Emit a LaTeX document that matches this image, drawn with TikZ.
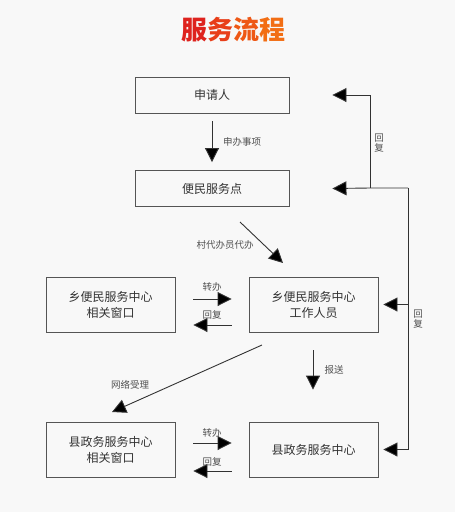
\documentclass[tikz,border=0pt]{standalone}
\usepackage{fontspec}
\setmainfont{Noto Sans CJK SC}
\usepackage{tikz}
\usetikzlibrary{arrows.meta,positioning,calc}
\definecolor{bgGray}{RGB}{248,248,248}
\definecolor{boxLine}{RGB}{85,85,85}
\definecolor{lineDark}{RGB}{50,50,50}
\definecolor{labGray}{RGB}{80,80,80}
\definecolor{titleA}{RGB}{222,35,30}
\definecolor{titleB}{RGB}{232,62,25}
\definecolor{titleC}{RGB}{238,88,22}
\definecolor{titleD}{RGB}{242,110,20}

\begin{document}
\begin{tikzpicture}[
  x=1pt,y=-1pt,
  box/.style={draw=boxLine,line width=0.9pt,minimum width=129pt,minimum height=55pt,font=\fontsize{12}{16}\selectfont,align=center,text=black!80},
  topbox/.style={box,minimum width=154pt,minimum height=36pt},
  arr/.style={draw=lineDark,line width=0.9pt,-{Triangle[length=14pt,width=14pt,fill=black]}},
  lab/.style={font=\fontsize{9.5}{10}\selectfont,text=labGray,inner sep=1pt},
  vlab/.style={lab,align=center,font=\fontsize{9.5}{10.5}\selectfont}
]
  \useasboundingbox[fill=bgGray] (0,0) rectangle (455,512);

  % Title
  \node (title) at (233,30) {\fontsize{26}{28}\selectfont\bfseries
    \textcolor{titleA}{服}\textcolor{titleB}{务}\textcolor{titleC}{流}\textcolor{titleD}{程}};

  % Top column
  \node[topbox] (apply) at (212,95) {申请人};
  \node[topbox] (point) at (212,188.5) {便民服务点};
  \draw[arr,shorten <=8pt,shorten >=8pt] (apply) -- (point);
  \node[lab,anchor=west] (lApply) at (222,142) {申办事项};

  % Township row
  \node[box] (townWin) at (110.5,304.5) {乡便民服务中心\\相关窗口};
  \node[box] (townStaff) at (313.5,304.5) {乡便民服务中心\\工作人员};
  \draw[arr] ([shift={(18pt,5.5pt)}]townWin.east) -- ([shift={(-17pt,5.5pt)}]townStaff.west);
  \draw[arr] ([shift={(-17pt,-20.5pt)}]townStaff.west) -- ([shift={(18pt,-20.5pt)}]townWin.east);
  \node[lab] (lTurn1) at (212,287) {转办};
  \node[lab] (lBack1) at (212,315) {回复};

  % Proxy arrow
  \coordinate (pxA) at (240,222);
  \coordinate (pxB) at (283,263);
  \draw[arr] (pxA) -- (pxB);
  \node[lab] (lProxy) at (225,245) {村代办员代办};

  % County row
  \node[box] (countyWin) at (110.5,449.5) {县政务服务中心\\相关窗口};
  \node[box] (county) at (313.5,449.5) {县政务服务中心};
  \draw[arr] ([shift={(18pt,6.5pt)}]countyWin.east) -- ([shift={(-17pt,6.5pt)}]county.west);
  \draw[arr] ([shift={(-17pt,-21.5pt)}]county.west) -- ([shift={(18pt,-21.5pt)}]countyWin.east);
  \node[lab] (lTurn2) at (212,433) {转办};
  \node[lab] (lBack2) at (212,462) {回复};

  % Online and report arrows
  \coordinate (netA) at (262,345);
  \coordinate (netB) at (112,412);
  \draw[arr] (netA) -- (netB);
  \node[lab] (lNet) at (130,385) {网络受理};
  \draw[arr,shorten <=18pt,shorten >=32pt] (townStaff.south -| 313,0) -- (county.north -| 313,0);
  \node[lab] (lReport) at (334,370) {报送};

  % Feedback lines
  \coordinate (fbA) at (370,188);
  \coordinate (fbB) at (408,188);
  \draw[arr] (fbB) |- ([xshift=5pt]county.east);
  \draw[arr] (fbB |- townStaff.east) -- ([xshift=5pt]townStaff.east);
  \draw[arr] (fbB) -- (fbA) -- ([xshift=43pt]point.east);
  \draw[arr] (fbA) |- ([xshift=43pt]apply.east);
  \node[vlab] (lFb1) at (379,143) {回\\复};
  \node[vlab] (lFb2) at (418,319) {回\\复};
\end{tikzpicture}
\end{document}
